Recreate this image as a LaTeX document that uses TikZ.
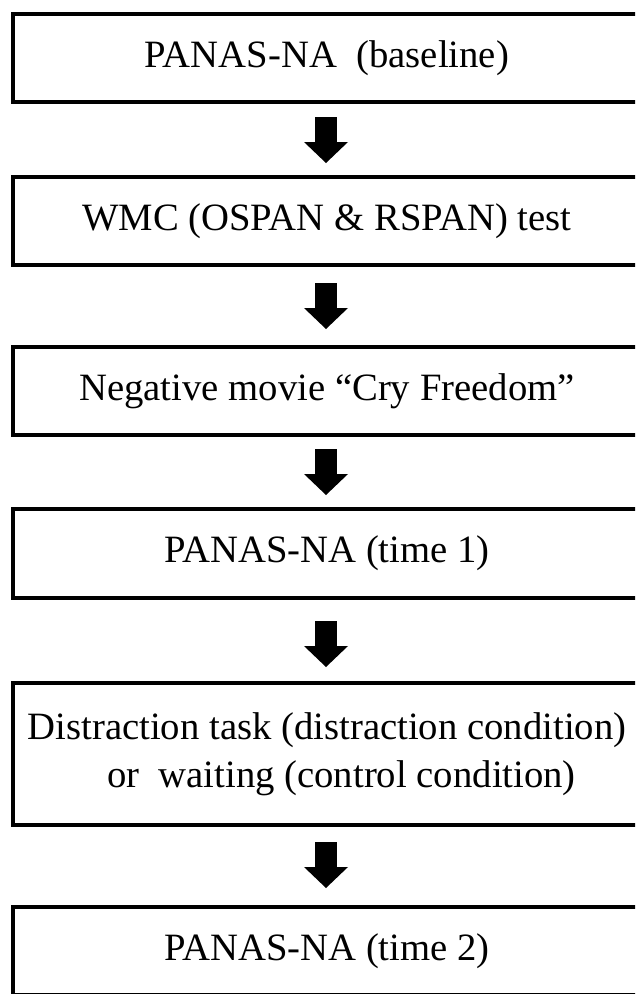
\documentclass[tikz,border=0pt]{standalone}
\usepackage{fontspec}
\setmainfont{Liberation Serif}
\usetikzlibrary{arrows.meta}
\tikzset{
  stage/.style={draw, line width=4pt, minimum width=628pt, inner sep=0pt, outer sep=0pt,
    align=center, font=\fontsize{38.7}{48}\selectfont},
  flow/.style={line width=22pt, -{Triangle[width=44pt,length=21pt,line width=0pt]}}
}
\begin{document}
\begin{tikzpicture}[x=1pt,y=-1pt]
\useasboundingbox (0,0) rectangle (635,994);
\clip (0,0) rectangle (635,994);
% steps of the procedure
\node[stage, minimum height=88.5pt] (base) at (327,57.75) {PANAS-NA\ \ (baseline)};
\node[stage, minimum height=88pt] (wmc) at (327,221) {WMC (OSPAN \& RSPAN) test};
\node[stage, minimum height=88pt] (movie) at (327,391) {Negative movie “Cry Freedom”};
\node[stage, minimum height=89pt] (time1) at (327,553.5) {PANAS-NA (time 1)};
\node[stage, minimum height=142pt] (task) at (327,754)
  {Distraction task (distraction condition)\\\hspace*{0.75em}or\ \ waiting (control condition)};
\node[stage, minimum height=88pt] (time2) at (327,951) {PANAS-NA (time 2)};
% block arrows between them
\draw[flow] ([yshift=-15pt,xshift=-1pt]base.south) -- ([yshift=14pt,xshift=-1pt]wmc.north);
\draw[flow] ([yshift=-18pt,xshift=-1pt]wmc.south) -- ([yshift=18pt,xshift=-1pt]movie.north);
\draw[flow] ([yshift=-14pt,xshift=-1pt]movie.south) -- ([yshift=14pt,xshift=-1pt]time1.north);
\draw[flow] ([yshift=-23pt,xshift=-1pt]time1.south) -- ([yshift=16pt,xshift=-1pt]task.north);
\draw[flow] ([yshift=-17pt,xshift=-1pt]task.south) -- ([yshift=19pt,xshift=-1pt]time2.north);
\end{tikzpicture}
\end{document}
